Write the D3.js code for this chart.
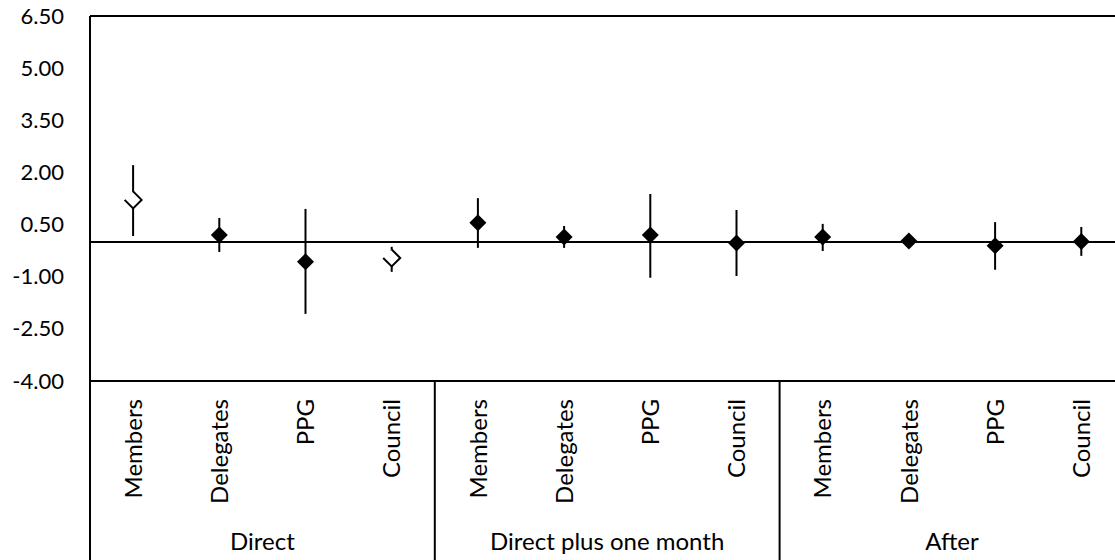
<!DOCTYPE html>
<html>
<head>
<meta charset="utf-8">
<script src="https://cdn.jsdelivr.net/npm/d3@7"></script>
<style>
  body { margin: 0; background: #fff; }
  text { font-family: Lato, "Open Sans", sans-serif; fill: #000; }
</style>
</head>
<body>
<svg id="chart" width="1115" height="560"></svg>
<script>
// chart data
var groups = ["Direct", "Direct plus one month", "After"];
var roles = ["Members", "Delegates", "PPG", "Council"];
var means = [1.21, 0.20, -0.57, -0.46, 0.55, 0.14, 0.20, -0.03, 0.14, 0.03, -0.11, 0.01];
var upper = [2.21, 0.69, 0.95, -0.14, 1.26, 0.46, 1.38, 0.92, 0.52, 0.12, 0.57, 0.43];
var lower = [0.17, -0.29, -2.07, -0.86, -0.17, -0.17, -1.03, -0.98, -0.26, -0.08, -0.80, -0.40];
var hollow = [true, false, false, true, false, false, false, false, false, false, false, false];
var yTicks = [-4.0, -2.5, -1.0, 0.5, 2.0, 3.5, 5.0, 6.5];

var plotLeft = 90, plotTop = 16, plotBottom = 381, fullBottom = 560;
var band = 86.2;
var fontSize = "24px";

var svg = d3.select("#chart");

// one entry per point
var points = [];
groups.forEach(function(g, gi) {
  roles.forEach(function(r, ri) {
    var i = gi * roles.length + ri;
    points.push({ i: i, group: g, role: r, mean: means[i], hi: upper[i], lo: lower[i], hollow: hollow[i] });
  });
});

var x = d3.scaleBand()
    .domain(points.map(function(d) { return d.i; }))
    .range([plotLeft, plotLeft + band * points.length]);

var y = d3.scaleLinear()
    .domain([-4, 6.5])
    .range([plotBottom, plotTop]);

// y tick labels (plain hyphen for negatives, like the original)
var fmt = d3.format(".2f");
var yAxis = d3.axisLeft(y)
    .tickValues(yTicks)
    .tickSize(0)
    .tickPadding(26)
    .tickFormat(function(d) { return fmt(d).replace("\u2212", "-"); });

var ya = svg.append("g")
    .attr("transform", "translate(" + plotLeft + ",0)")
    .call(yAxis);
ya.select(".domain").remove();
ya.selectAll("text").style("font-size", "22px").style("font-family", "Lato");

// frame lines
var lineStyle = function(sel) { sel.attr("stroke", "#000").attr("stroke-width", 2).attr("fill", "none"); };
svg.append("line").attr("x1", plotLeft).attr("x2", 1115).attr("y1", plotTop).attr("y2", plotTop).call(lineStyle);
svg.append("line").attr("x1", plotLeft).attr("x2", plotLeft).attr("y1", plotTop).attr("y2", fullBottom).call(lineStyle);
svg.append("line").attr("x1", plotLeft).attr("x2", 1115).attr("y1", plotBottom).attr("y2", plotBottom).call(lineStyle);
svg.append("line").attr("x1", plotLeft).attr("x2", 1115).attr("y1", y(0)).attr("y2", y(0)).call(lineStyle);

// group separators and group names
groups.forEach(function(g, gi) {
  if (gi > 0) {
    var gx = x(gi * roles.length);
    svg.append("line").attr("x1", gx).attr("x2", gx).attr("y1", plotBottom).attr("y2", fullBottom).call(lineStyle);
  }
  var first = x(gi * roles.length);
  var last = x(gi * roles.length + roles.length - 1) + x.bandwidth();
  svg.append("text")
      .attr("x", (first + last) / 2)
      .attr("y", 550)
      .attr("text-anchor", "middle")
      .style("font-size", fontSize)
      .text(g);
});

// category labels, rotated
svg.selectAll("text.cat")
  .data(points)
  .enter().append("text")
    .attr("class", "cat")
    .attr("transform", function(d) {
      return "translate(" + (x(d.i) + x.bandwidth() / 2) + ",399) rotate(-90)";
    })
    .attr("dy", "0.36em")
    .attr("text-anchor", "end")
    .style("font-size", fontSize)
    .text(function(d) { return d.role; });

// error bars
var cx = function(d) { return x(d.i) + x.bandwidth() / 2; };
svg.selectAll("line.err")
  .data(points)
  .enter().append("line")
    .attr("class", "err")
    .attr("x1", cx).attr("x2", cx)
    .attr("y1", function(d) { return y(d.hi); })
    .attr("y2", function(d) { return y(d.lo); })
    .attr("stroke", "#000")
    .attr("stroke-width", 2);

// markers
var r = 8.5;
function diamond(d) {
  var px = cx(d), py = y(d.mean);
  return "M" + px + "," + (py - r) + "L" + (px + r) + "," + py + "L" + px + "," + (py + r) + "L" + (px - r) + "," + py + "Z";
}
svg.selectAll("path.mk")
  .data(points)
  .enter().append("path")
    .attr("class", "mk")
    .attr("d", diamond)
    .attr("fill", function(d) { return d.hollow ? "#fff" : "#000"; });

// hollow markers are drawn with only part of the outline
svg.selectAll("path.open")
  .data(points.filter(function(d) { return d.hollow; }))
  .enter().append("path")
    .attr("class", "open")
    .attr("d", function(d) {
      var px = cx(d), py = y(d.mean);
      return "M" + px + "," + (py - r) + "L" + (px + r) + "," + py + "L" + px + "," + (py + r) + "L" + (px - r) + "," + py;
    })
    .attr("fill", "none")
    .attr("stroke", "#000")
    .attr("stroke-width", 2);
</script>
</body>
</html>
